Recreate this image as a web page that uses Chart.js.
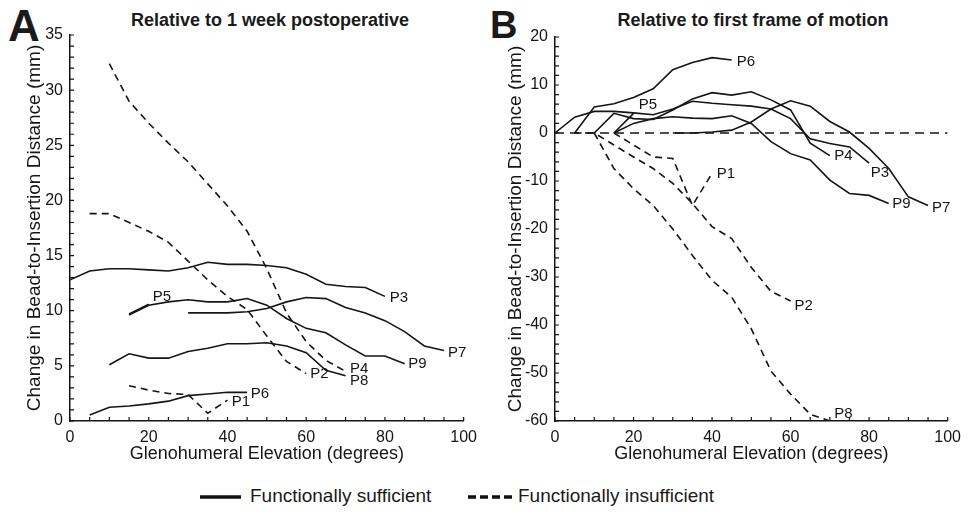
<!DOCTYPE html>
<html>
<head>
<meta charset="utf-8">
<script src="https://cdn.jsdelivr.net/npm/chart.js@4.4.1/dist/chart.umd.min.js"></script>
<style>
  html, body { margin:0; padding:0; background:#fff; }
  body { width:968px; height:517px; position:relative; overflow:hidden; font-family:"Liberation Sans", Arial, sans-serif; color:#1a1a1a; }
  .cv { position:absolute; top:0; width:484px; height:470px; }
  .panel-letter { position:absolute; font-weight:bold; font-size:44px; line-height:1; }
  .ptitle { position:absolute; top:9px; font-weight:bold; font-size:18px; line-height:22px; text-align:center; width:396px; white-space:nowrap; }
  .legend { position:absolute; top:484px; left:0; width:968px; height:26px; font-size:19px; }
  .legend span { position:absolute; top:1px; white-space:nowrap; }
  .legend svg { position:absolute; top:0; }
</style>
</head>
<body>
<div class="panel-letter" style="left:8px;top:4px;">A</div>
<div class="panel-letter" style="left:490px;top:6px;font-size:38px;">B</div>
<div class="ptitle" style="left:72px;">Relative to 1 week postoperative</div>
<div class="ptitle" style="left:555px;">Relative to first frame of motion</div>
<div class="cv" style="left:0;"><canvas id="cA"></canvas></div>
<div class="cv" style="left:484px;"><canvas id="cB"></canvas></div>
<div class="legend">
  <svg width="968" height="26"><line x1="200" y1="13" x2="241" y2="13" stroke="#111" stroke-width="3.5"/>
  <line x1="468" y1="13" x2="513" y2="13" stroke="#111" stroke-width="3.5" stroke-dasharray="8,4"/></svg>
  <span style="left:250px;">Functionally sufficient</span>
  <span style="left:518px;">Functionally insufficient</span>
</div>
<script>
// ---------------- DATA ----------------
const stepDeg = 5; // sampling interval of glenohumeral elevation (degrees)
const participants = ["P1","P2","P3","P4","P5","P6","P7","P8","P9"];
const sufficient = {P1:false,P2:false,P3:true,P4:true,P5:true,P6:true,P7:true,P8:false,P9:true};
const startDeg = {P1:15,P2:5,P3:0,P4:10,P5:15,P6:5,P7:30,P8:10,P9:15};

// Panel A: relative to 1 week postoperative (mm)
const A_P1 = [3.2,2.8,2.5,2.4,0.7,1.9];
const A_P2 = [18.8,18.8,18.0,17.2,16.2,14.5,12.8,11.3,10.1,7.7,5.4,4.3];
const A_P3 = [12.8,13.6,13.8,13.8,13.7,13.6,13.9,14.4,14.2,14.2,14.1,13.9,13.3,12.4,12.2,12.1,11.3];
const A_P4 = [5.1,6.1,5.7,5.7,6.3,6.6,7.0,7.0,7.1,6.8,6.2,4.6,4.1];
const A_P5 = [9.7,10.6];
const A_P6 = [0.55,1.25,1.36,1.55,1.8,2.3,2.45,2.6,2.6];
const A_P7 = [9.8,9.8,9.8,9.9,10.2,10.8,11.2,11.1,10.3,9.8,9.1,8.1,6.8,6.4];
const A_P8 = [32.4,29.0,27.0,25.2,23.5,21.5,19.5,17.2,13.8,9.8,7.2,5.5,4.5];
const A_P9 = [9.6,10.5,10.8,11.0,10.8,10.8,11.1,10.5,9.3,8.4,8.0,6.9,5.9,5.9,5.2];

// Panel B: relative to first frame of motion
const B_P1 = [0,-2.5,-5.0,-5.3,-15.1,-8.4];
const B_P2 = [0,0,-2.5,-5.0,-7.4,-10.5,-14.7,-19.5,-22.0,-28.0,-33.0,-35.0];
const B_P3 = [0,3.3,4.5,4.5,4.2,3.8,5.0,6.6,6.2,5.9,5.6,5.0,3.0,-1.2,-2.2,-2.9,-6.3];
const B_P4 = [0,4.1,3.0,2.8,4.8,7.1,8.4,7.9,8.6,6.9,4.8,-2.1,-4.7];
const B_P5 = [0,4.1];
const B_P6 = [0,5.4,6.1,7.4,9.2,13.2,14.7,15.7,15.2];
const B_P7 = [0,0,0.2,0.6,2.3,5.0,6.7,5.6,2.4,0.2,-3.2,-7.4,-13.3,-15.1];
const B_P8 = [0,-7.4,-11.6,-15.1,-20.0,-25.5,-30.7,-34.2,-40.8,-49.6,-54.4,-58.6,-60.0];
const B_P9 = [0,2.0,3.0,3.4,3.1,3.0,3.6,2.0,-1.8,-4.3,-5.6,-9.8,-12.6,-13.0,-14.7];

// zero reference line in panel B
const zeroLineX = [0,100];
const zeroLineY = [0,0];

// axis ticks
const xTicks = [0,20,40,60,80,100];
const yTicksA = [0,5,10,15,20,25,30,35];
const yTicksB = [-60,-50,-40,-30,-20,-10,0,10,20];

// label anchor (data coords) for each participant tag
const labelA = {P1:[41.1,1.75],P2:[61,4.3],P3:[81.2,11.2],P4:[71.1,4.7],P5:[21,11.3],P6:[45.9,2.5],P7:[96,6.2],P8:[71.1,3.6],P9:[85.9,5.2]};
const labelB = {P1:[41.2,-8.6],P2:[61,-36],P3:[80.4,-8.3],P4:[71.1,-4.8],P5:[21.3,5.9],P6:[46.3,14.8],P7:[96,-15.5],P8:[71.1,-58.6],P9:[85.9,-14.8]};

const seriesA = {P1:A_P1,P2:A_P2,P3:A_P3,P4:A_P4,P5:A_P5,P6:A_P6,P7:A_P7,P8:A_P8,P9:A_P9};
const seriesB = {P1:B_P1,P2:B_P2,P3:B_P3,P4:B_P4,P5:B_P5,P6:B_P6,P7:B_P7,P8:B_P8,P9:B_P9};

// ---------------- BUILD ----------------
const INK = '#151515';
const FONT = "'Liberation Sans', Arial, sans-serif";

function toPoints(p, vals){ return vals.map((v,i)=>({x:startDeg[p]+i*stepDeg, y:v})); }

function makeDatasets(series){
  return participants.map(p=>({
    label:p,
    data: toPoints(p, series[p]),
    borderColor: INK, borderWidth: 1.6,
    borderDash: sufficient[p] ? [] : [7,5],
    pointRadius: 0, fill:false, tension:0
  }));
}

const innerTicks = {
  id:'innerTicks',
  afterDatasetsDraw(chart, args, opts){
    const {ctx, chartArea:a, scales:{x,y}} = chart;
    ctx.save();
    ctx.strokeStyle = INK; ctx.lineWidth = 1.2;
    ctx.beginPath();
    for(let v=x.min; v<=x.max+1e-9; v+=opts.xMinor){
      const px = x.getPixelForValue(v);
      ctx.moveTo(px, a.bottom); ctx.lineTo(px, a.bottom-4);
    }
    for(let v=y.min; v<=y.max+1e-9; v+=opts.yMinor){
      const py = y.getPixelForValue(v);
      ctx.moveTo(a.left, py); ctx.lineTo(a.left+4, py);
    }
    ctx.stroke();
    ctx.restore();
  }
};

const tags = {
  id:'tags',
  afterDatasetsDraw(chart, args, opts){
    const {ctx, scales:{x,y}} = chart;
    ctx.save();
    ctx.fillStyle = INK;
    ctx.font = "15px " + FONT;
    ctx.textAlign = 'left'; ctx.textBaseline = 'middle';
    for(const p of participants){
      const pos = opts.pos[p];
      ctx.fillText(p, x.getPixelForValue(pos[0]), y.getPixelForValue(pos[1]));
    }
    ctx.restore();
  }
};

function makeChart(id, datasets, yMin, yMax, yTicks, yMinor, labelPos, pad, yAxisW, yTitlePad){
  return new Chart(document.getElementById(id), {
    type:'line',
    data:{ datasets },
    options:{
      responsive:true, maintainAspectRatio:false, animation:false,
      layout:{ padding: pad },
      plugins:{ legend:{display:false}, tooltip:{enabled:false},
        innerTicks:{xMinor:5, yMinor:yMinor}, tags:{pos:labelPos} },
      scales:{
        x:{ type:'linear', min:0, max:100,
          afterBuildTicks: s => { s.ticks = xTicks.map(v=>({value:v})); },
          afterFit: s => { s.height = 49; },
          ticks:{ color:INK, font:{size:16, family:FONT}, padding:7, maxRotation:0 },
          grid:{ display:true, drawOnChartArea:false, drawTicks:false },
          border:{ display:true, color:INK, width:1.5 },
          title:{ display:true, text:'Glenohumeral Elevation (degrees)', color:INK,
                  font:{size:18, family:FONT}, padding:{top:0,bottom:5} }
        },
        y:{ type:'linear', min:yMin, max:yMax,
          afterBuildTicks: s => { s.ticks = yTicks.map(v=>({value:v})); },
          afterFit: s => { s.width = yAxisW; },
          ticks:{ color:INK, font:{size:16, family:FONT}, padding:7 },
          grid:{ display:true, drawOnChartArea:false, drawTicks:false },
          border:{ display:true, color:INK, width:1.5 },
          title:{ display:true, text:'Change in Bead-to-Insertion Distance (mm)', color:INK,
                  font:{size:19, family:FONT}, padding:{top:yTitlePad,bottom:0} }
        }
      }
    },
    plugins:[innerTicks, tags]
  });
}

const dsB = makeDatasets(seriesB);
dsB.push({ label:'zero', data: zeroLineX.map((x,i)=>({x, y:zeroLineY[i]})),
  borderColor:INK, borderWidth:1.5, borderDash:[9,6], pointRadius:0, fill:false });

makeChart('cA', makeDatasets(seriesA), 0, 35, yTicksA, 1, labelA, {left:0,right:18,top:35,bottom:0}, 70, 23);
makeChart('cB', dsB, -60, 20, yTicksB, 2, labelB, {left:0,right:17,top:37,bottom:0}, 71, 20);
</script>
</body>
</html>
